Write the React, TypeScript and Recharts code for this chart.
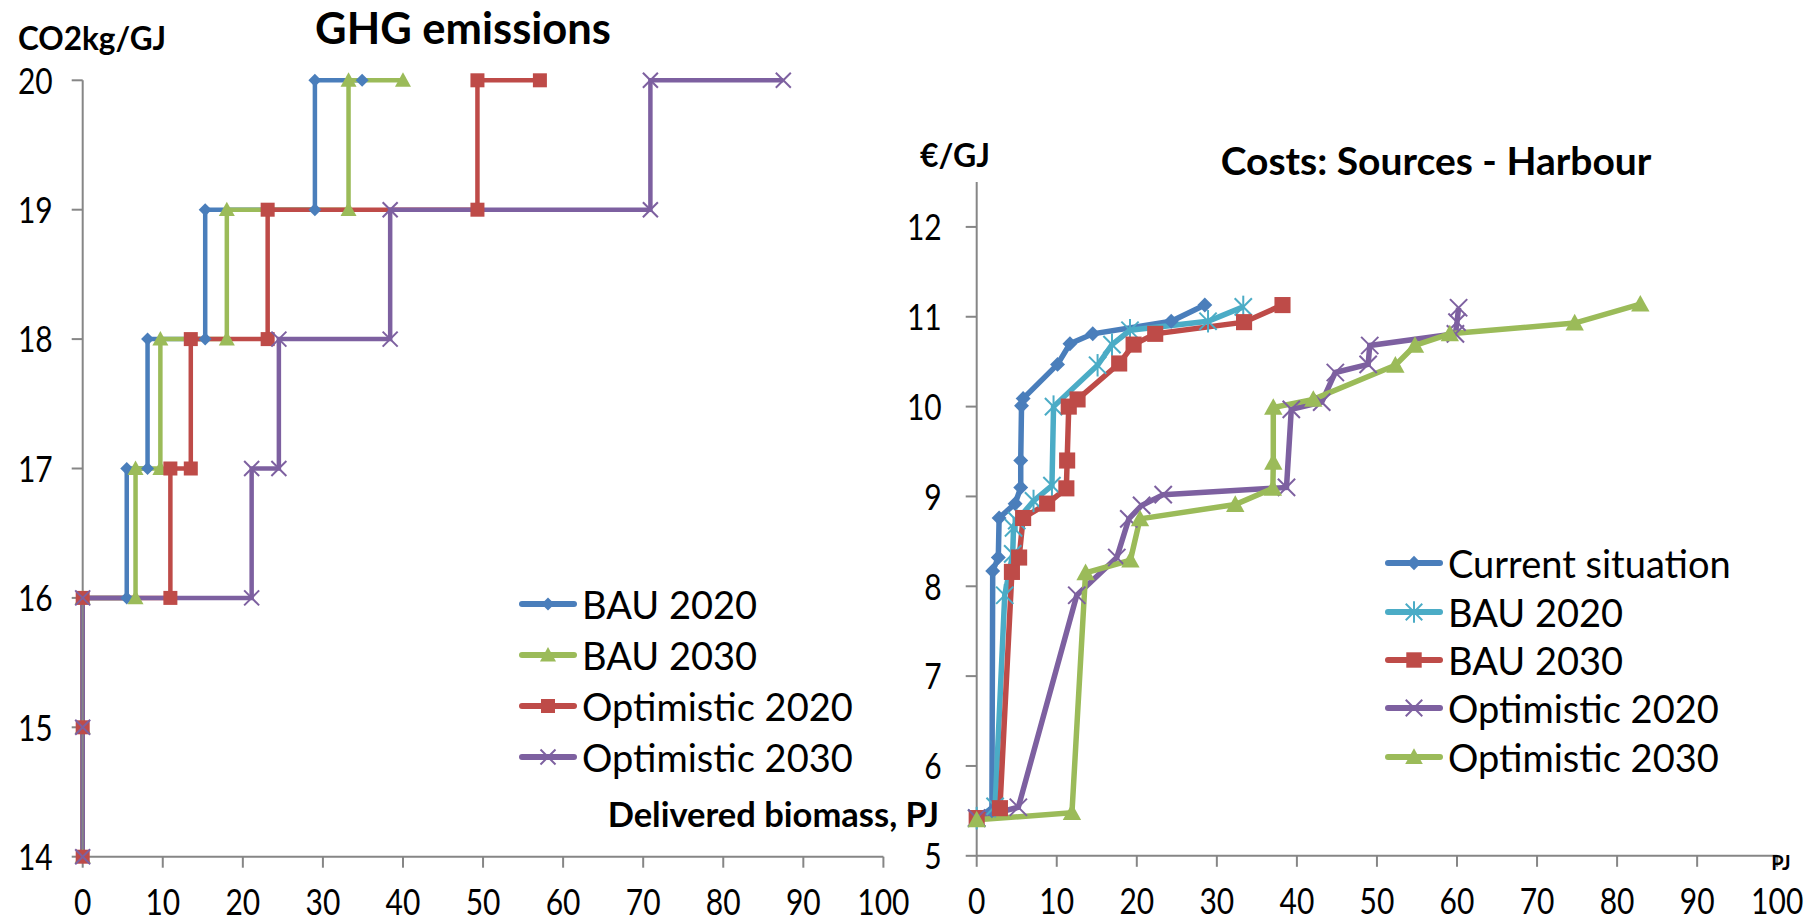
import React from "react";
import { LineChart, Line, XAxis, YAxis, Legend } from "recharts";

const FONT = "Lato, 'Open Sans', sans-serif";
const AXIS = "#868686";

const BLUE = "#4A7EBB";
const CYAN = "#4BACC6";
const RED = "#BE4B48";
const PURPLE = "#7D60A0";
const GREEN = "#9BBB59";

// x axis (PJ) ticks shared by both charts
const pjTicks = [0, 10, 20, 30, 40, 50, 60, 70, 80, 90, 100];
const ghgTicks = [14, 15, 16, 17, 18, 19, 20];
const costTicks = [5, 6, 7, 8, 9, 10, 11, 12];

// GHG emissions, CO2kg/GJ vs delivered biomass
const ghgBau2020 = [
  { pj: 0, v: 14 }, { pj: 0, v: 15 }, { pj: 0, v: 16 }, { pj: 5.5, v: 16 },
  { pj: 5.5, v: 17 }, { pj: 8.1, v: 17 }, { pj: 8.1, v: 18 }, { pj: 15.3, v: 18 },
  { pj: 15.3, v: 19 }, { pj: 29.0, v: 19 }, { pj: 29.0, v: 20 }, { pj: 34.9, v: 20 },
];
const ghgBau2030 = [
  { pj: 0, v: 14 }, { pj: 0, v: 15 }, { pj: 0, v: 16 }, { pj: 6.6, v: 16 },
  { pj: 6.6, v: 17 }, { pj: 9.7, v: 17 }, { pj: 9.7, v: 18 }, { pj: 18.0, v: 18 },
  { pj: 18.0, v: 19 }, { pj: 33.2, v: 19 }, { pj: 33.2, v: 20 }, { pj: 40.0, v: 20 },
];
const ghgOpt2020 = [
  { pj: 0, v: 14 }, { pj: 0, v: 15 }, { pj: 0, v: 16 }, { pj: 10.95, v: 16 },
  { pj: 10.95, v: 17 }, { pj: 13.5, v: 17 }, { pj: 13.5, v: 18 }, { pj: 23.1, v: 18 },
  { pj: 23.1, v: 19 }, { pj: 49.3, v: 19 }, { pj: 49.3, v: 20 }, { pj: 57.1, v: 20 },
];
const ghgOpt2030 = [
  { pj: 0, v: 14 }, { pj: 0, v: 15 }, { pj: 0, v: 16 }, { pj: 21.1, v: 16 },
  { pj: 21.1, v: 17 }, { pj: 24.5, v: 17 }, { pj: 24.5, v: 18 }, { pj: 38.4, v: 18 },
  { pj: 38.4, v: 19 }, { pj: 70.9, v: 19 }, { pj: 70.9, v: 20 }, { pj: 87.5, v: 20 },
];

// Costs sources - harbour, €/GJ
const costCurrent = [
  { pj: 0, v: 5.42 }, { pj: 1.9, v: 5.5 }, { pj: 2.0, v: 8.17 }, { pj: 2.7, v: 8.32 },
  { pj: 2.8, v: 8.76 }, { pj: 4.8, v: 8.92 }, { pj: 5.5, v: 9.1 }, { pj: 5.5, v: 9.4 },
  { pj: 5.6, v: 10.01 }, { pj: 5.8, v: 10.09 }, { pj: 10.1, v: 10.47 }, { pj: 11.65, v: 10.7 },
  { pj: 14.5, v: 10.81 }, { pj: 24.3, v: 10.95 }, { pj: 28.5, v: 11.13 },
];
const costBau2020 = [
  { pj: 0, v: 5.42 }, { pj: 2.3, v: 5.55 }, { pj: 3.5, v: 7.9 }, { pj: 4.5, v: 8.36 },
  { pj: 4.6, v: 8.65 }, { pj: 5.0, v: 8.73 }, { pj: 7.1, v: 8.95 }, { pj: 9.4, v: 9.12 },
  { pj: 9.6, v: 10.0 }, { pj: 15.1, v: 10.46 }, { pj: 16.9, v: 10.69 }, { pj: 19.15, v: 10.85 },
  { pj: 28.9, v: 10.95 }, { pj: 33.3, v: 11.11 },
];
const costBau2030 = [
  { pj: 0, v: 5.42 }, { pj: 2.9, v: 5.53 }, { pj: 4.4, v: 8.16 }, { pj: 5.3, v: 8.32 },
  { pj: 5.8, v: 8.76 }, { pj: 8.8, v: 8.92 }, { pj: 11.2, v: 9.09 }, { pj: 11.3, v: 9.4 },
  { pj: 11.5, v: 10.0 }, { pj: 12.6, v: 10.08 }, { pj: 17.8, v: 10.48 }, { pj: 19.6, v: 10.69 },
  { pj: 22.3, v: 10.81 }, { pj: 33.4, v: 10.94 }, { pj: 38.2, v: 11.13 },
];
const costOpt2020 = [
  { pj: 0, v: 5.42 }, { pj: 5.2, v: 5.54 }, { pj: 12.5, v: 7.9 }, { pj: 17.5, v: 8.32 },
  { pj: 19.0, v: 8.75 }, { pj: 20.6, v: 8.9 }, { pj: 23.3, v: 9.02 }, { pj: 38.7, v: 9.1 },
  { pj: 39.3, v: 9.97 }, { pj: 43.1, v: 10.05 }, { pj: 44.8, v: 10.38 }, { pj: 48.9, v: 10.47 },
  { pj: 49.1, v: 10.68 }, { pj: 59.8, v: 10.81 }, { pj: 60.0, v: 10.94 }, { pj: 60.2, v: 11.1 },
];
const costOpt2030 = [
  { pj: 0, v: 5.4 }, { pj: 11.9, v: 5.48 }, { pj: 13.6, v: 8.15 }, { pj: 19.2, v: 8.29 },
  { pj: 20.4, v: 8.75 }, { pj: 32.3, v: 8.91 }, { pj: 37.0, v: 9.09 }, { pj: 37.05, v: 9.38 },
  { pj: 37.05, v: 9.99 }, { pj: 42.05, v: 10.08 }, { pj: 52.3, v: 10.46 }, { pj: 54.75, v: 10.68 },
  { pj: 59.1, v: 10.81 }, { pj: 74.7, v: 10.93 }, { pj: 82.9, v: 11.14 },
];

type Kind = "diamond" | "triangle" | "square" | "cross" | "star";

const ghgSeries = [
  { name: "BAU 2020", data: ghgBau2020, color: BLUE, marker: "diamond" as Kind },
  { name: "BAU 2030", data: ghgBau2030, color: GREEN, marker: "triangle" as Kind },
  { name: "Optimistic 2020", data: ghgOpt2020, color: RED, marker: "square" as Kind },
  { name: "Optimistic 2030", data: ghgOpt2030, color: PURPLE, marker: "cross" as Kind },
];

const costSeries = [
  { name: "Current situation", data: costCurrent, color: BLUE, marker: "diamond" as Kind },
  { name: "BAU 2020", data: costBau2020, color: CYAN, marker: "star" as Kind },
  { name: "BAU 2030", data: costBau2030, color: RED, marker: "square" as Kind },
  { name: "Optimistic 2020", data: costOpt2020, color: PURPLE, marker: "cross" as Kind },
  { name: "Optimistic 2030", data: costOpt2030, color: GREEN, marker: "triangle" as Kind },
];

function Marker({ kind, cx, cy, color, s = 1 }: { kind: Kind; cx: number; cy: number; color: string; s?: number }) {
  if (cx == null || cy == null) return null;
  if (kind === "diamond") {
    const r = 6.5 * s;
    return <polygon points={`${cx},${cy - r} ${cx + r},${cy} ${cx},${cy + r} ${cx - r},${cy}`} fill={color} />;
  }
  if (kind === "triangle") {
    const r = 8 * s;
    return <polygon points={`${cx},${cy - r} ${cx + r},${cy + r * 0.8} ${cx - r},${cy + r * 0.8}`} fill={color} />;
  }
  if (kind === "square") {
    const r = 7 * s;
    return <rect x={cx - r} y={cy - r} width={2 * r} height={2 * r} fill={color} />;
  }
  const r = 7.5 * s;
  return (
    <g stroke={color} strokeWidth={2}>
      <line x1={cx - r} y1={cy - r} x2={cx + r} y2={cy + r} />
      <line x1={cx - r} y1={cy + r} x2={cx + r} y2={cy - r} />
      {kind === "star" && <line x1={cx} y1={cy - r * 1.3} x2={cx} y2={cy + r * 1.3} />}
    </g>
  );
}

function legendContent(series: typeof ghgSeries, rowH: number, s: number) {
  return () => (
    <div>
      {series.map((it) => (
        <div key={it.name} style={{ display: "flex", alignItems: "center", height: rowH }}>
          <svg width={58} height={28}>
            <line x1={3} x2={55} y1={14} y2={14} stroke={it.color} strokeWidth={6} strokeLinecap="round" />
            <Marker kind={it.marker} cx={29} cy={14} color={it.color} s={s} />
          </svg>
          <span style={{ fontFamily: FONT, fontSize: 38, marginLeft: 5, color: "#000", whiteSpace: "nowrap" }}>
            {it.name}
          </span>
        </div>
      ))}
    </div>
  );
}

function Caption({ x, y, size, anchor = "middle", children }: any) {
  const tx = anchor === "middle" ? "-50%" : anchor === "end" ? "-100%" : "0";
  return (
    <div
      style={{
        position: "absolute",
        left: x,
        top: y,
        transform: `translate(${tx}, -50%)`,
        fontFamily: FONT,
        fontWeight: 700,
        fontSize: size,
        lineHeight: 0.9,
        whiteSpace: "nowrap",
        color: "#000",
      }}
    >
      {children}
    </div>
  );
}

// tick labels are drawn a bit taller than the font, like the original
function TallTick(props: any) {
  const { x, y, payload, textAnchor, vertical } = props;
  return (
    <text
      transform={`translate(${x},${y}) scale(1,1.25)`}
      textAnchor={textAnchor}
      dy={vertical ? "0.355em" : "0.71em"}
      fill="#000"
      fontSize={30}
      fontFamily={FONT}
    >
      {payload.value}
    </text>
  );
}

const axisLine = { stroke: AXIS, strokeWidth: 2 };

export default function App() {
  return (
    <div style={{ position: "absolute", left: 0, top: 0, width: 1806, height: 922, background: "#fff", overflow: "hidden" }}>
      <div style={{ position: "absolute", left: 0, top: 0 }}>
        <LineChart width={940} height={922} margin={{ top: 80.3, right: 56.6, left: 22.7, bottom: 5.3 }}>
          <XAxis
            type="number"
            dataKey="pj"
            domain={[0, 100]}
            ticks={pjTicks}
            height={60}
            tickSize={11}
            tickMargin={21}
            axisLine={axisLine}
            tickLine={axisLine}
            tick={<TallTick />}
            interval={0}
          />
          <YAxis
            type="number"
            domain={[14, 20]}
            ticks={ghgTicks}
            width={60}
            tickSize={11}
            tickMargin={19}
            axisLine={axisLine}
            tickLine={axisLine}
            tick={<TallTick vertical />}
            interval={0}
          />
          {ghgSeries.map((s) => (
            <Line
              key={s.name}
              data={s.data}
              dataKey="v"
              name={s.name}
              type="linear"
              stroke={s.color}
              strokeWidth={4.5}
              isAnimationActive={false}
              activeDot={false}
              dot={(p: any) => <Marker key={p.index} kind={s.marker} cx={p.cx} cy={p.cy} color={s.color} />}
            />
          ))}
          <Legend
            layout="vertical"
            verticalAlign="middle"
            align="center"
            content={legendContent(ghgSeries, 51, 1)}
            wrapperStyle={{ left: 519, top: 578, width: "auto" }}
          />
        </LineChart>
      </div>

      <div style={{ position: "absolute", left: 880, top: 0 }}>
        <LineChart width={926} height={922} margin={{ top: 182, right: 28.8, left: 36.7, bottom: 6.2 }}>
          <XAxis
            type="number"
            dataKey="pj"
            domain={[0, 100]}
            ticks={pjTicks}
            height={60}
            tickSize={11}
            tickMargin={21}
            axisLine={axisLine}
            tickLine={axisLine}
            tick={<TallTick />}
            interval={0}
          />
          <YAxis
            type="number"
            domain={[5, 12.5]}
            ticks={costTicks}
            width={60}
            tickSize={11}
            tickMargin={24}
            axisLine={axisLine}
            tickLine={axisLine}
            tick={<TallTick vertical />}
            interval={0}
          />
          {costSeries.map((s) => (
            <Line
              key={s.name}
              data={s.data}
              dataKey="v"
              name={s.name}
              type="linear"
              stroke={s.color}
              strokeWidth={5.5}
              isAnimationActive={false}
              activeDot={false}
              dot={(p: any) => <Marker key={p.index} kind={s.marker} cx={p.cx} cy={p.cy} color={s.color} s={1.15} />}
            />
          ))}
          <Legend
            layout="vertical"
            verticalAlign="middle"
            align="center"
            content={legendContent(costSeries, 48.4, 1.1)}
            wrapperStyle={{ left: 505, top: 539, width: "auto" }}
          />
        </LineChart>
      </div>

      <Caption x={92} y={38} size={31.5}>CO2kg/GJ</Caption>
      <Caption x={463} y={28} size={43.5}>GHG emissions</Caption>
      <Caption x={939} y={814} size={34.5} anchor="end">Delivered biomass, PJ</Caption>
      <Caption x={955} y={155} size={32}>€/GJ</Caption>
      <Caption x={1436} y={161} size={39}>Costs: Sources - Harbour</Caption>
      <Caption x={1781} y={862} size={20}>PJ</Caption>
    </div>
  );
}
